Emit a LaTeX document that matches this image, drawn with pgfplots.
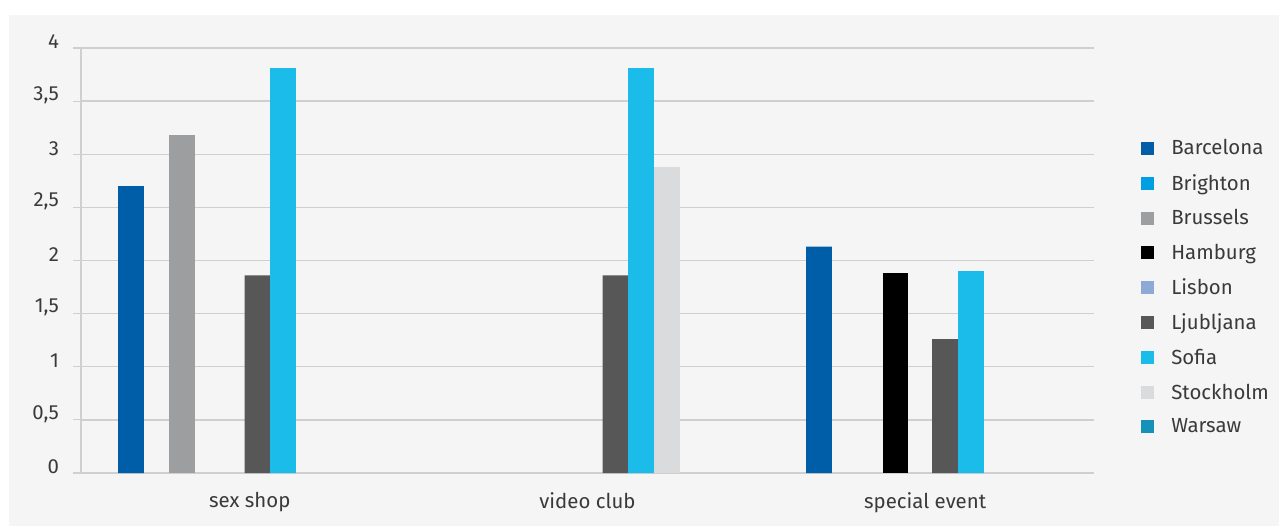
\documentclass[border=0pt]{standalone}
\usepackage{fontspec}
\setmainfont{Fira Sans}
\usepackage{pgfplots}
\pgfplotsset{compat=1.18}
\definecolor{panel}{HTML}{F5F5F5}
\definecolor{gridc}{HTML}{CFCFCF}
\definecolor{txt}{HTML}{3A3A3A}
\definecolor{cBarcelona}{HTML}{005EA8}
\definecolor{cBrighton}{HTML}{009FE3}
\definecolor{cBrussels}{HTML}{9D9E9F}
\definecolor{cHamburg}{HTML}{000000}
\definecolor{cLisbon}{HTML}{8DA9D5}
\definecolor{cLjubljana}{HTML}{575758}
\definecolor{cSofia}{HTML}{1BBCEA}
\definecolor{cStockholm}{HTML}{DADBDC}
\definecolor{cWarsaw}{HTML}{1592BA}
\newcommand{\lfont}{\fontsize{15.3}{18}\selectfont}
\begin{document}
\begin{tikzpicture}
\fill[white] (-60.75pt,-39.75pt) rectangle (898.5pt,354.75pt);
\fill[panel] (-54pt,-39.75pt) rectangle (898.5pt,343.5pt);
\useasboundingbox (-60.75pt,-39.75pt) rectangle (898.5pt,354.75pt);
\begin{axis}[
  at={(0pt,0pt)}, anchor=south west,
  scale only axis, width=759.75pt, height=318.75pt,
  xmin=-0.5, xmax=2.5, ymin=0, ymax=4,
  ybar, bar shift=0pt, bar width=19.3pt,
  axis x line*=bottom, axis y line*=left,
  axis line style={-, draw=gridc, line width=0.9pt},
  xtick={0,1,2},
  xticklabels={sex shop, video club, special event},
  x tick style={draw=none},
  xticklabel style={font=\lfont, text=txt, yshift=-5pt},
  extra x ticks={-0.5,0.5,1.5,2.5},
  extra x tick labels={},
  extra x tick style={major tick length=5pt, tick align=outside, tick style={draw=gridc, line width=0.9pt}},
  ytick={0,0.5,...,4},
  y tick style={draw=gridc, line width=0.9pt},
  major tick length=6pt, tick align=outside,
  yticklabel style={font=\lfont, text=txt, yshift=4.5pt, xshift=-7pt},
  /pgf/number format/use comma,
  /pgf/number format/assume math mode=true,
  ymajorgrids, major grid style={draw=gridc, line width=1.1pt},
  every axis plot/.append style={draw=none},
  legend style={at={(1.0425,0.4376)}, anchor=west, draw=none, fill=none,
    font=\lfont, text=txt, row sep=9pt},
  legend cell align=left,
]
\addplot[fill=cBarcelona, legend image code/.code={\fill[cBarcelona] (0pt,-4.9pt) rectangle (9.8pt,4.9pt); \path (20.5pt,0pt);}]
  coordinates {(-0.3519,2.70) (1.6856,2.13)};
\addlegendentry{Barcelona}
\addlegendimage{legend image code/.code={\fill[cBrighton] (0pt,-4.9pt) rectangle (9.8pt,4.9pt); \path (20.5pt,0pt);}}
\addlegendentry{Brighton}
\addplot[fill=cBrussels, legend image code/.code={\fill[cBrussels] (0pt,-4.9pt) rectangle (9.8pt,4.9pt); \path (20.5pt,0pt);}]
  coordinates {(-0.2009,3.18)};
\addlegendentry{Brussels}
\addplot[fill=cHamburg, legend image code/.code={\fill[cHamburg] (0pt,-4.9pt) rectangle (9.8pt,4.9pt); \path (20.5pt,0pt);}]
  coordinates {(1.9121,1.88)};
\addlegendentry{Hamburg}
\addlegendimage{legend image code/.code={\fill[cLisbon] (0pt,-4.9pt) rectangle (9.8pt,4.9pt); \path (20.5pt,0pt);}}
\addlegendentry{Lisbon}
\addplot[fill=cLjubljana, legend image code/.code={\fill[cLjubljana] (0pt,-4.9pt) rectangle (9.8pt,4.9pt); \path (20.5pt,0pt);}]
  coordinates {(0.0227,1.86) (1.0829,1.86) (2.0587,1.26)};
\addlegendentry{Ljubljana}
\addplot[fill=cSofia, legend image code/.code={\fill[cSofia] (0pt,-4.9pt) rectangle (9.8pt,4.9pt); \path (20.5pt,0pt);}]
  coordinates {(0.0982,3.81) (1.1584,3.81) (2.1357,1.90)};
\addlegendentry{Sofia}
\addplot[fill=cStockholm, legend image code/.code={\fill[cStockholm] (0pt,-4.9pt) rectangle (9.8pt,4.9pt); \path (20.5pt,0pt);}]
  coordinates {(1.2354,2.88)};
\addlegendentry{Stockholm}
\addlegendimage{legend image code/.code={\fill[cWarsaw] (0pt,-4.9pt) rectangle (9.8pt,4.9pt); \path (20.5pt,0pt);}}
\addlegendentry{Warsaw}
\end{axis}
\end{tikzpicture}
\end{document}
